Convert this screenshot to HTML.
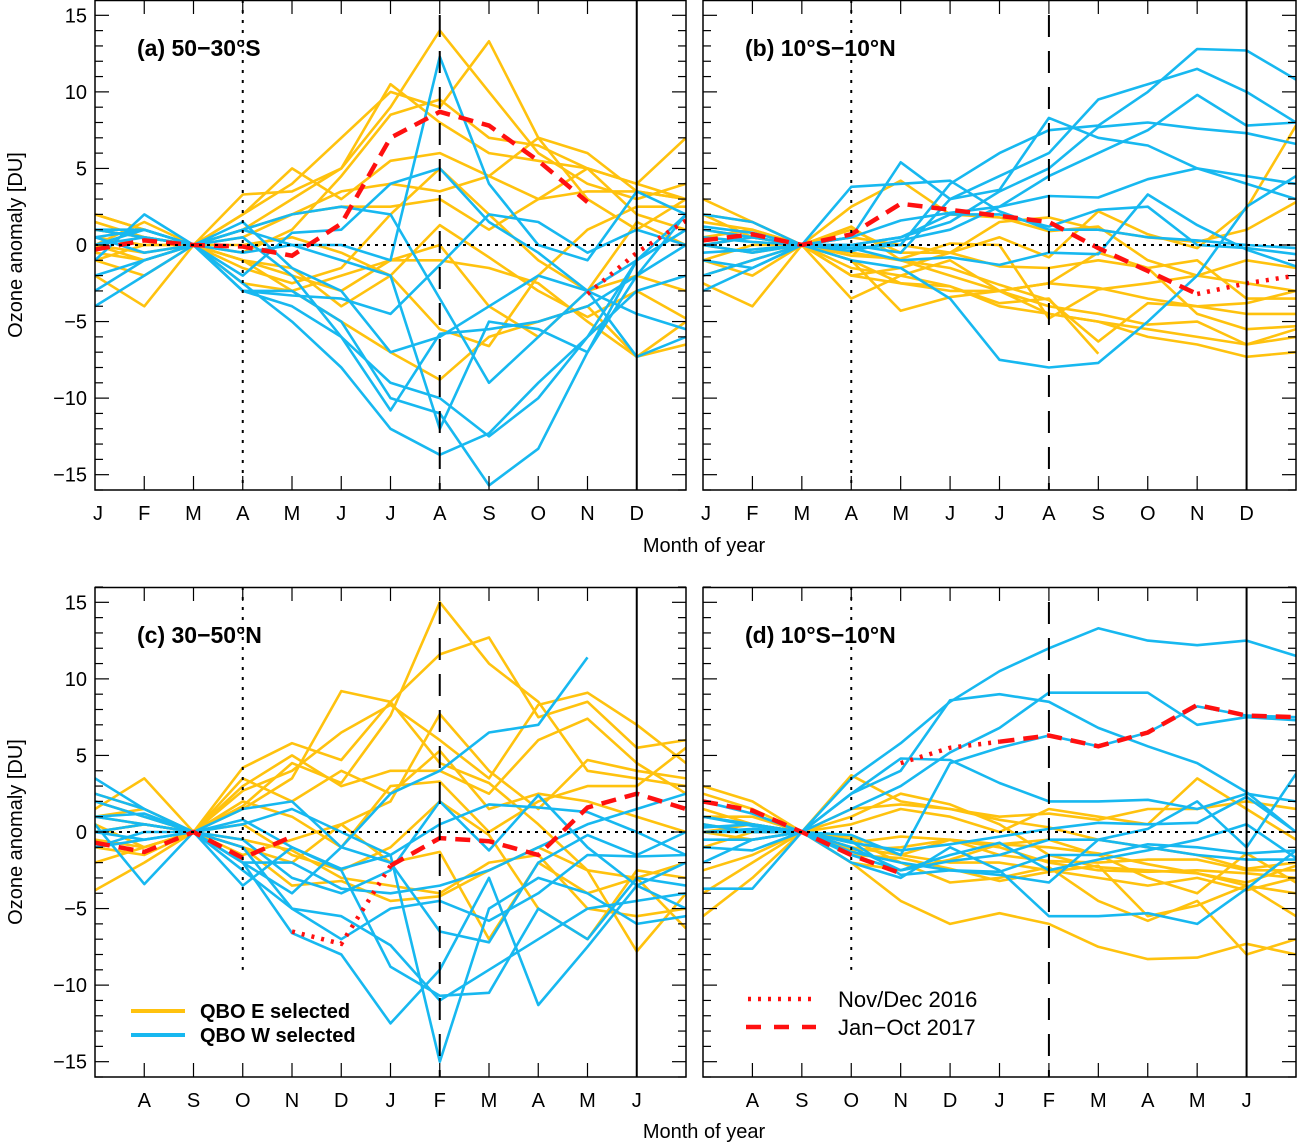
<!DOCTYPE html>
<html><head><meta charset="utf-8">
<style>
html,body{margin:0;padding:0;background:#fff;}
svg{display:block;font-family:"Liberation Sans","DejaVu Sans",sans-serif;}
</style></head>
<body>
<svg id="chart" width="1298" height="1144" viewBox="0 0 1298 1144" xmlns="http://www.w3.org/2000/svg"></svg>
<script>
const monthsTop = ["J","F","M","A","M","J","J","A","S","O","N","D"];
const monthsBottom = ["","A","S","O","N","D","J","F","M","A","M","J"];
const yTicks = [-15,-10,-5,0,5,10,15];

const aYellow = [
[1,0.5,0,1,3,5,9,14,10,6,4,3,4],
[-1,-2,0,2,4,7,10,9,13.3,7,3,1,3],
[2,1,0,3.3,3.5,5,10.5,8,6,5.5,5,4,7],
[-2,-4,0,-0.5,1,4.5,8.5,9.5,7,6.5,5,4,3],
[0,-1,0,-2.5,-3,-2,-1,-1,-1.5,-2.5,-5,-7.3,-6.5],
[1,0.5,0,-1,-3,-5,-7,-8.8,-6,-5,-4,-7.3,-5],
[2,1,0,0.5,2,2.5,2.5,3,1,3,5,2,1],
[-1,0,0,-1,-2,-3,-1,0,-4,-6,-3,-2,-3],
[0,1.5,0,1,2,3.5,4,3.5,4.5,3,3.5,3.5,3],
[0.5,0,0,2,5,3,5.5,6,4.5,7,6,3.5,3],
[-0.5,-1,0,0,0.5,-0.5,-2,1.3,-0.8,-3,-4.7,-3,-4.8],
[1.5,0.5,0,-1,-1.5,-4,-2,-5.5,-6.6,-2,1,2.5,2.5],
[0,-0.5,0,-1.5,-2.5,-1.5,2,5,2,-1,-3,1.5,0]];
const aBlue = [
[-1,2,0,1,0,0,-1,12.3,4,0,-1,3.5,2],
[0,1,0,-3,-4,-6,-9,-10,-12.5,-10,-6,-3,-2],
[-4,-2,0,-2.5,-5,-8,-12,-13.7,-12.3,-9,-6,-1,1],
[1,0.5,0,-3,-3,-5,-10,-11,-15.7,-13.3,-7,-2,0],
[0.5,1,0,0.5,-2,-6,-10.8,-5.8,-5.5,-5,-4,-2,2],
[-2,-1,0,1,2,2.5,2,-3.5,-9,-6,-3,-7.3,-6],
[0.5,-0.5,0,1.5,-1.5,-3,-7,-6,-4,-2,-3,-1,1],
[0,0.5,0,-3,-3.3,-3.5,-4.5,-1.3,2,1.5,-0.5,1,0],
[1,1,0,-2,0.8,1,4,5,1.5,-0.5,-3,-4.5,-5.5],
[-3,-1,0,-0.5,0,-1,-2,-12,-5,-5.5,-7,-1,2]];
const aRedDash = [-0.3,0.3,0,-0.1,-0.7,1.4,7.0,8.7,7.8,5.5,2.8,null,null];
const aRedDot = [null,null,null,null,null,null,null,null,null,null,-3.2,-0.5,1.6];

const bYellow = [
[3,1.5,0,-1,-2.5,-2.7,-4,-4.5,-5,-5.5,-6,-6.5,-6],
[-2.5,-4,0,1.2,-1,-2,-3,-4,-4.5,-5.2,-5,-6.5,-5.5],
[1.5,1,0,2.5,4.2,2,1.8,0.9,1.2,-1,-2,-2.5,-3],
[0,0.5,0,-1,-4.3,-3.4,-3,-2.5,-2.8,-3.5,-4,-4.5,-4.5],
[-1,-2,0,-3.5,-2,-1,-3,-4.5,-5,-6,-6.5,-7.3,-7],
[1,0.5,0,-0.5,-1,-1.5,-2.6,-3.6,-6.3,-3.8,-4,-3.8,-3],
[2,0.5,0,-1.5,-2,-2.7,-3.8,-3.5,-7.1,null,null,null,null],
[0.5,1,0,1,-0.5,-0.5,-1.4,-1.5,-1,-1.5,-1,-3.5,-3.5],
[-1,0,0,-2,-1.5,-0.5,0.5,-0.8,2.2,0.7,-0.2,2.4,7.8],
[0,-0.5,0,-2,-2.5,-3,-3,-2.5,-0.5,-1.5,-4.5,-5.5,-5.3],
[2,1.5,0,0.5,0,-0.5,1.5,1.8,1,0.5,0.2,1,2.8],
[-2,-1,0,-0.7,-0.9,0.1,0,-4.8,-2.9,-2.5,-2,-1,-1.5]];
const bBlue = [
[-3,-1.5,0,3.8,4,4.2,2.2,1,1,0.5,0.3,0,-0.2],
[1,0.5,0,0.5,5.4,3,3.6,8.3,7,6.5,5,4.5,4],
[0,-0.5,0,-0.2,0,4,6,7.5,7.8,10,12.8,12.7,10.8],
[2,1.5,0,0,-0.5,3,4.5,6,9.5,10.5,11.5,10,8],
[0.5,0.2,0,-1,-1.5,-3.5,-7.5,-8,-7.7,-5,-2,2.5,4.5],
[-1,-1.5,0,-0.2,-1,-0.8,-1.3,-0.5,-0.6,3.3,1.3,-0.3,-1.4],
[-2,-1,0,0.5,1.6,2.1,2.5,3.2,3.1,4.3,5,4,3],
[1.2,0.8,0,0,0.5,2,2,1.2,2.3,2.5,0,-0.2,-0.6],
[-0.5,-0.3,0,0,0.5,1.5,3.5,5,7.7,8,7.6,7.3,6.6],
[0,0.5,0,-0.4,0.3,1,2.5,4.5,6,7.5,9.8,7.8,8]];
const bRedDash = [0.3,0.7,0,0.7,2.7,2.3,1.9,1.5,-0.2,-1.7,-3.2,null,null];
const bRedDot = [null,null,null,null,null,null,null,null,null,null,-3.2,-2.5,-2.0];

const cYellow = [
[-3.8,-2,0,1.7,4.5,3.2,7.6,15,11,8.5,4,3.5,3],
[1.5,3.5,0,4.2,5.8,4.7,8.5,11.6,12.7,7.5,8.5,5.5,6],
[2.5,1.5,0,2.7,4,6.5,8.3,6,3.5,8.3,9.1,7,4.5],
[0.5,-1,0,1.5,3.5,9.2,8.5,4.5,3.2,0.5,-2.5,-7.8,-4],
[-1,-1.5,0,-1,-2,0.5,2,7.7,4,1.5,4.7,4,3.5],
[0,0.5,0,3,5,3,4,4,2.5,6,7.4,4.5,2.5],
[1,0.5,0,-0.5,-1.2,-3,-3.5,-4,-2,-1.5,-5,-5.5,-5],
[-0.5,-1,0,-1,-3.5,-3.2,-4.5,-4.2,-2.5,-1,-2.5,-3,-6.3],
[2,1,0,3.5,2,4,2.5,5.3,1.5,2.5,2,1,0],
[0,0.5,0,-1.5,-0.5,0.5,-2,-1.3,-7,-2,-4,-3,-2],
[1,1.5,0,2,1,-1,3,3.3,0,2,3,3,5.5],
[-2,-1,0,0.5,-1.5,-2.5,-1,2,-0.2,-5,-7,-2.5,-3]];
const cBlue = [
[3.5,1.5,0,0.5,1.5,0,-1.5,-15,-5,-3,-4,-6,-5.5],
[0.5,-3.4,0,-3.5,-1,-2.5,-8.8,-10.7,-10.5,-5,-7,-3,-3.5],
[1,0.5,0,-1,-5,-5.5,-7.4,-11,-9,-7,-5,-4.5,-4],
[-1,0,0,-2,-6.6,-8,-12.5,-9,-3,-11.3,-7.5,-3.5,-5],
[2,1,0,1.5,2,-1,2.5,4,6.5,7,11.4,null,null],
[0,0.5,0,0.8,-1,-2.4,-1.5,0.5,1.8,1.6,1.3,0,-1.5],
[-1,-0.5,0,-2,-2,-3.7,-4,-3.5,-2.5,-1,0.5,1.5,2.5],
[1,1.2,0,-0.5,-3,-4,-2.5,2,-1.2,2.4,-1,-3.5,-2],
[0,-0.5,0,-2,-4,-1,-2,-6.5,-7.2,-2,-0.2,-1.5,0],
[2.5,1.5,0,-2.5,-5,-7,-5,-4.5,-5.8,-4,-1.5,-1.6,-1.5]];
const cRedDash = [-0.7,-1.3,0,-1.7,-0.3,null,-2.2,-0.4,-0.6,-1.5,1.6,2.5,1.5];
const cRedDot = [null,null,null,null,-6.5,-7.3,-2.2,null,null,null,null,null,null];

const dYellow = [
[-5.5,-3,0,3.7,2,1.5,1,1.2,0.8,1.5,1.5,2,1.5],
[2.5,1.5,0,-2,-4.5,-6,-5.3,-6,-7.5,-8.3,-8.2,-7.3,-8],
[1.5,0.5,0,1,2.5,1.8,0.5,-1.5,-2.3,-2.5,-2.7,-3.5,-4],
[0,-0.5,0,0.5,1.5,1,0,1.5,1,0.5,3.5,1.5,-0.5],
[-1,0,0,-0.5,-2,-3.3,-3,-2.3,-4.5,-5.8,-4.5,-8,-7],
[1,0.5,0,-1,-1.5,-2,-2,-2.5,-3,-3.5,-3,-3.8,-3],
[3,2,0,-1.2,-1,-0.5,-0.8,-1,-1.4,-2.1,-2.7,-3.3,-2.2],
[-2.5,-1.5,0,-2,-2.5,-1.8,-0.8,-0.5,-1.5,-3,-4,-1.4,-3.3],
[0.5,0,0,-0.3,-1.5,-0.5,-1,-2,-2.5,-2.6,-2.5,-2.7,-3],
[1,1,0,1.5,1.8,1.5,0.8,0.3,-0.5,-1,-1.5,-2.4,-2],
[-4,-2,0,-1.5,-1.7,-2.4,-3.2,-2.6,-2.2,-5.5,-4.8,-3.5,-5.5],
[0,0.5,0,-0.7,-0.3,-0.5,-1.5,-1.9,-2,-1.8,-1.8,-2.5,-2.5]];
const dBlue = [
[0,0.2,0,3.5,5.8,8.5,10.5,12,13.3,12.5,12.2,12.5,11.5],
[0.5,0,0,2.5,4,8.6,9,8.5,6.8,5.6,4.5,2.6,0],
[1,0.5,0,2.5,4.8,4.7,3.2,2.0,2,2.1,1.5,2.5,2],
[-3.7,-3.7,0,-2,-3,-1,-2.5,-5.5,-5.5,-5.3,-6,-3.7,-1.2],
[-1,-1.2,0,1.5,3,5.2,6.8,9.1,9.1,9.1,7,7.5,7.3],
[0.3,0.5,0,-0.6,-2.8,-2.5,-2.6,-1.5,-1.5,-0.8,-1,-1.4,-1.2],
[-0.5,-0.5,0,-1,-2.5,-1.5,-0.7,-2.5,-1.8,-1.2,-0.5,0.5,-1.7],
[1,0.4,0,-0.7,-1.2,-0.8,-0.3,0.2,0.6,0.5,0.6,2.3,0],
[2,1.2,0,-0.2,-1.5,4.5,5.5,6.3,5.6,6.5,8.2,7.6,7.5],
[0,0,0,-1.3,-2,-2.5,-2.8,-3.3,-0.5,0.2,2,-1,3.8],
[-2,-0.5,0,-1.5,-2.5,-1.9,-1.5,-0.5,-0.5,-1,-1.5,-1.8,-1.8]];
const dRedDash = [2.0,1.4,0,-1.5,-2.7,null,5.9,6.3,5.6,6.5,8.3,7.6,7.5];
const dRedDot = [null,null,null,null,4.5,5.5,5.9,null,null,null,null,null,null];

const NS = "http://www.w3.org/2000/svg";
const svg = document.getElementById("chart");
function mk(tag, attrs, parent){
  const e = document.createElementNS(NS, tag);
  for (const k in attrs) e.setAttribute(k, attrs[k]);
  (parent||svg).appendChild(e);
  return e;
}
const YEL = "#ffc20e", BLU = "#17b8f0";

const panels = [
  {id:"a", x0:95, x1:686, y0:0, y1:490, title:"(a)  50\u221230\u00b0S", months:monthsTop, yl:true, ye:aYellow, bl:aBlue, rd:aRedDash, ro:aRedDot, dotEnd:null},
  {id:"b", x0:703, x1:1296, y0:0, y1:490, title:"(b)  10\u00b0S\u221210\u00b0N", months:monthsTop, yl:false, ye:bYellow, bl:bBlue, rd:bRedDash, ro:bRedDot, dotEnd:null},
  {id:"c", x0:95, x1:686, y0:587, y1:1077, title:"(c)  30\u221250\u00b0N", months:monthsBottom, yl:true, ye:cYellow, bl:cBlue, rd:cRedDash, ro:cRedDot, dotEnd:-9},
  {id:"d", x0:703, x1:1296, y0:587, y1:1077, title:"(d)  10\u00b0S\u221210\u00b0N", months:monthsBottom, yl:false, ye:dYellow, bl:dBlue, rd:dRedDash, ro:dRedDot, dotEnd:-9}
];

panels.forEach(p => {
  const g = mk("g", {});
  
  
  const xs = i => p.x0 + (p.x1 - p.x0) * i / 12;
  const ys = v => (p.y0 + p.y1) / 2 - v * (p.y1 - p.y0) / 32;
  const clipId = "clip" + p.id;
  const cp = mk("clipPath", {id: clipId}, g);
  mk("rect", {x:p.x0, y:p.y0, width:p.x1-p.x0, height:p.y1-p.y0}, cp);
  const lines = mk("g", {"clip-path":"url(#"+clipId+")"}, g);

  function pathFrom(arr){
    let d = "", pen = false;
    arr.forEach((v,i) => {
      if (v === null) { pen = false; return; }
      d += (pen ? "L" : "M") + xs(i).toFixed(1) + "," + ys(v).toFixed(1);
      pen = true;
    });
    return d;
  }
  p.ye.forEach((s,k) => {
    const e = mk("path", {d:pathFrom(s), fill:"none", stroke:YEL, "stroke-width":2.6, "stroke-linejoin":"round"}, lines);
    
    
  });
  p.bl.forEach((s,k) => {
    const e = mk("path", {d:pathFrom(s), fill:"none", stroke:BLU, "stroke-width":2.6, "stroke-linejoin":"round"}, lines);
    
    
  });
  // zero line
  const z = mk("line", {x1:p.x0, x2:p.x1, y1:ys(0), y2:ys(0), stroke:"#000", "stroke-width":2, "stroke-dasharray":"3,5"}, g);
  
  
  // vertical markers
  const vd = mk("line", {x1:xs(3), x2:xs(3), y1:p.y0, y2:p.dotEnd===null?p.y1:ys(p.dotEnd), stroke:"#000", "stroke-width":2, "stroke-dasharray":"3,7"}, g);
  
  
  const vdash = mk("line", {x1:xs(7), x2:xs(7), y1:p.y0+15, y2:p.y1, stroke:"#000", "stroke-width":2, "stroke-dasharray":"22,14"}, g);
  
  
  const vs = mk("line", {x1:xs(11), x2:xs(11), y1:p.y0, y2:p.y1, stroke:"#000", "stroke-width":2}, g);
  
  
  // red lines
  const rd = mk("path", {d:pathFrom(p.rd), fill:"none", stroke:"#ff1010", "stroke-width":4.5, "stroke-dasharray":"15,9"}, lines);
  
  
  const ro = mk("path", {d:pathFrom(p.ro), fill:"none", stroke:"#ff1010", "stroke-width":4.5, "stroke-dasharray":"3,7"}, lines);
  
  
  // frame
  const fr = mk("rect", {x:p.x0, y:p.y0+0.5, width:p.x1-p.x0, height:p.y1-p.y0-0.5, fill:"none", stroke:"#000", "stroke-width":1.5}, g);
  
  
  // ticks
  for (let v = -16; v <= 16; v++) {
    const len = (v % 5 === 0) ? 14 : 8;
    mk("line", {x1:p.x0, x2:p.x0+len, y1:ys(v), y2:ys(v), stroke:"#000", "stroke-width":1.2}, g);
    mk("line", {x1:p.x1, x2:p.x1-len, y1:ys(v), y2:ys(v), stroke:"#000", "stroke-width":1.2}, g);
  }
  for (let i = 1; i < 12; i++) {
    mk("line", {x1:xs(i), x2:xs(i), y1:p.y1, y2:p.y1-14, stroke:"#000", "stroke-width":1.2}, g);
    mk("line", {x1:xs(i), x2:xs(i), y1:p.y0, y2:p.y0+14, stroke:"#000", "stroke-width":1.2}, g);
  }
  if (p.yl) {
    yTicks.forEach(v => {
      const t = mk("text", {x:p.x0-8, y:ys(v)+7, "text-anchor":"end", "font-size":20}, g);
      t.textContent = (v < 0 ? "\u2212" + (-v) : String(v));
      
      
    });
    const yt = mk("text", {x:0, y:0, "text-anchor":"middle", "font-size":20, transform:"translate(22,"+((p.y0+p.y1)/2)+") rotate(-90)"}, g);
    yt.textContent = "Ozone anomaly [DU]";
    
    
  }
  p.months.forEach((m,i) => {
    if (!m) return;
    const t = mk("text", {x:xs(i)+(i===0?3:0), y:p.y1+30, "text-anchor":"middle", "font-size":20}, g);
    t.textContent = m;
    
    
  });
  const tt = mk("text", {x:p.x0+42, y:p.y0+56, "font-size":23, "font-weight":"bold"}, g);
  tt.textContent = p.title;
  
  
});

[552, 1138].forEach(y => {
  const t = mk("text", {x:704, y:y, "text-anchor":"middle", "font-size":20});
  t.textContent = "Month of year";
  
  
});

// legends
const lg1 = mk("g", {});


mk("line", {x1:131, x2:185, y1:1011, y2:1011, stroke:YEL, "stroke-width":4}, lg1);
mk("line", {x1:131, x2:185, y1:1035, y2:1035, stroke:BLU, "stroke-width":4}, lg1);
const l1 = mk("text", {x:200, y:1018, "font-size":20, "font-weight":"bold", "xml:space":"preserve"}, lg1);
l1.textContent = "QBO  E selected";


const l2 = mk("text", {x:200, y:1042, "font-size":20, "font-weight":"bold", "xml:space":"preserve"}, lg1);
l2.textContent = "QBO  W selected";



const lg2 = mk("g", {});


mk("line", {x1:748, x2:816, y1:999, y2:999, stroke:"#ff1010", "stroke-width":4.5, "stroke-dasharray":"3,7"}, lg2);
mk("line", {x1:746, x2:816, y1:1027, y2:1027, stroke:"#ff1010", "stroke-width":4.5, "stroke-dasharray":"15,13"}, lg2);
const l3 = mk("text", {x:838, y:1007, "font-size":22}, lg2);
l3.textContent = "Nov/Dec 2016";


const l4 = mk("text", {x:838, y:1035, "font-size":22}, lg2);
l4.textContent = "Jan\u2212Oct 2017";


</script>
</body></html>
